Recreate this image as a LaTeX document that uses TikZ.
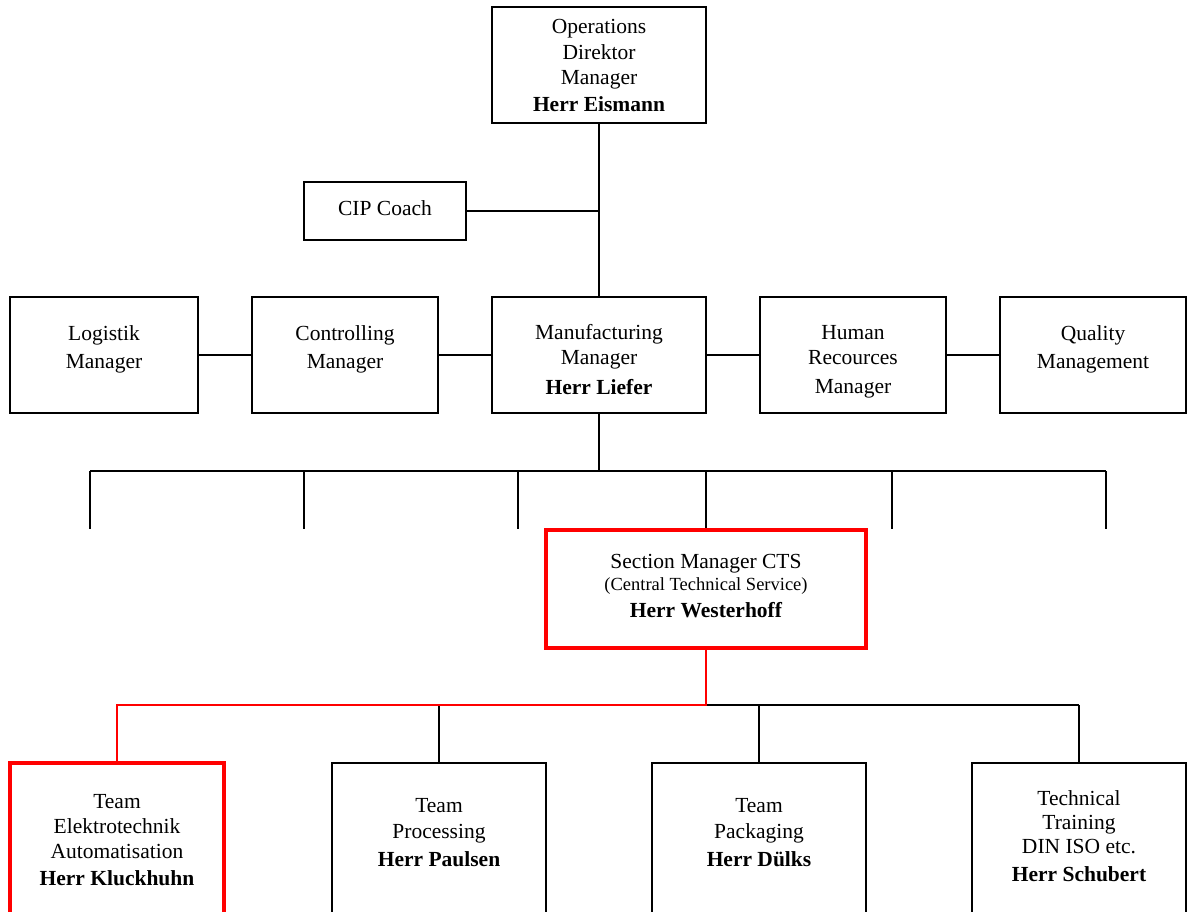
\documentclass[tikz,border=0pt]{standalone}
\usepackage{fontspec}
\setmainfont{Liberation Serif}
\newcommand\boxtext[1]{{\setlength\tabcolsep{0pt}\begin{tabular}[t]{c}#1\end{tabular}}}
\definecolor{hired}{RGB}{255,0,0}
\tikzset{
  box/.style={draw=black, line width=2pt, rectangle, inner sep=0pt, fill=none},
  redbox/.style={draw=hired, line width=4pt, rectangle, inner sep=0pt},
  txt/.style={anchor=base, inner sep=0pt, font=\fontsize{21.5}{25}\selectfont},
  conn/.style={draw=black, line width=2pt},
  redconn/.style={draw=hired, line width=2pt},
}
\begin{document}
\begin{tikzpicture}[x=1pt, y=-1pt]
\path[fill=white, use as bounding box] (0,0) rectangle (1188,911);
\clip (0,0) rectangle (1188,911);

% boxes
\node[box, minimum width=214pt, minimum height=116pt] (top) at (599,65) {};
\node[box, minimum width=162pt, minimum height=58pt] (cip) at (385,211) {};
\node[box, minimum width=188pt, minimum height=116pt] (log) at (104,355) {};
\node[box, minimum width=186pt, minimum height=116pt] (ctl) at (345,355) {};
\node[box, minimum width=214pt, minimum height=116pt] (mfg) at (599,355) {};
\node[box, minimum width=186pt, minimum height=116pt] (hr) at (853,355) {};
\node[box, minimum width=186pt, minimum height=116pt] (qm) at (1093,355) {};
\node[redbox, minimum width=320pt, minimum height=118pt] (sec) at (706,589) {};
\node[redbox, minimum width=214pt, minimum height=200pt] (kl) at (117,863) {};
\node[box, minimum width=214pt, minimum height=200pt] (pa) at (439,863) {};
\node[box, minimum width=214pt, minimum height=200pt] (du) at (759,863) {};
\node[box, minimum width=214pt, minimum height=200pt] (sc) at (1079,863) {};

% texts
\node[txt] (ttop) at (599,33) {\boxtext{Operations\\[1pt]Direktor\\Manager\\[2pt]\textbf{Herr Eismann}}};
\node[txt] (tcip) at (385,215) {CIP Coach};
\node[txt] (tlog) at (104,340) {\boxtext{Logistik\\[3pt]Manager}};
\node[txt] (tctl) at (345,340) {\boxtext{Controlling\\[3pt]Manager}};
\node[txt] (tmfg) at (599,339) {\boxtext{Manufacturing\\Manager\\[5pt]\textbf{Herr Liefer}}};
\node[txt] (thr) at (853,339) {\boxtext{Human\\Recources\\[4pt]Manager}};
\node[txt] (tqm) at (1093,340) {\boxtext{Quality\\[3pt]Management}};
\node[txt] (tsec) at (706,568) {\boxtext{Section Manager CTS\\[-3pt]{\fontsize{18.5}{21}\selectfont (Central Technical Service)}\\[2pt]\textbf{Herr Westerhoff}}};
\node[txt] (tkl) at (117,808) {\boxtext{Team\\Elektrotechnik\\Automatisation\\[2pt]\textbf{Herr Kluckhuhn}}};
\node[txt] (tpa) at (439,812) {\boxtext{Team\\[1pt]Processing\\[3pt]\textbf{Herr Paulsen}}};
\node[txt] (tdu) at (759,812) {\boxtext{Team\\[1pt]Packaging\\[3pt]\textbf{Herr D\"ulks}}};
\node[txt] (tsc) at (1079,805) {\boxtext{Technical\\[-1pt]Training\\[-1pt]DIN ISO etc.\\[3pt]\textbf{Herr Schubert}}};

% upper connectors
\coordinate (cipj) at (599,211);
\draw[conn] (top.south) -- (mfg.north);
\draw[conn] (cip.east) -- (cipj);
\draw[conn] (log.east) -- (ctl.west);
\draw[conn] (ctl.east) -- (mfg.west);
\draw[conn] (mfg.east) -- (hr.west);
\draw[conn] (hr.east) -- (qm.west);

% bus below manufacturing
\coordinate (busm) at (599,471);
\coordinate (b1) at (90,471);
\coordinate (b2) at (304,471);
\coordinate (b3) at (518,471);
\coordinate (b4) at (706,471);
\coordinate (b5) at (892,471);
\coordinate (b6) at (1106,471);
\coordinate (e1) at (90,529);
\coordinate (e2) at (304,529);
\coordinate (e3) at (518,529);
\coordinate (e5) at (892,529);
\coordinate (e6) at (1106,529);
\draw[conn] (mfg.south) -- (busm);
\draw[conn] (b1) -- (b6);
\draw[conn] (b1) -- (e1);
\draw[conn] (b2) -- (e2);
\draw[conn] (b3) -- (e3);
\draw[conn] (b4) -- (sec.north);
\draw[conn] (b5) -- (e5);
\draw[conn] (b6) -- (e6);

% lower connectors
\coordinate (sj) at (706,705);
\draw[conn] (sj) -- (sc.north |- sj);
\draw[conn] (pa.north |- sj) -- (pa.north);
\draw[conn] (du.north |- sj) -- (du.north);
\draw[conn] (sc.north |- sj) -- (sc.north);
\draw[redconn] (sec.south) -- (sj) -| (kl.north);
\end{tikzpicture}
\end{document}
